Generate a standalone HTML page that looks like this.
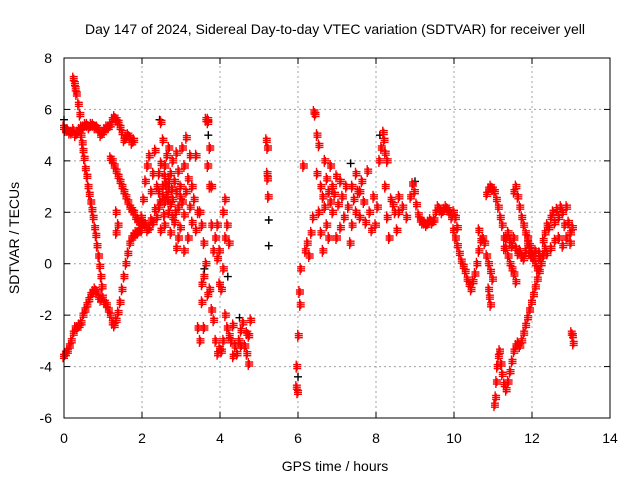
<!DOCTYPE html>
<html><head><meta charset="utf-8"><style>
body{margin:0;background:#fff}
svg{display:block;font-family:"Liberation Sans",sans-serif}
</style></head><body>
<svg id="chart" width="640" height="480" viewBox="0 0 640 480">
<rect width="640" height="480" fill="#fff"/>
<text x="335" y="34" font-size="14" text-anchor="middle">Day 147 of 2024, Sidereal Day-to-day VTEC variation (SDTVAR) for receiver yell</text>
<g id="grid"></g>
<g id="blk"></g>
<g id="red"></g>
<rect x="64" y="58" width="546" height="360" fill="none" stroke="#000" stroke-width="1"/>
<g id="ticks"></g>
<text x="335" y="471" font-size="14" text-anchor="middle">GPS time / hours</text>
<text transform="translate(19,238) rotate(-90)" font-size="14" text-anchor="middle">SDTVAR / TECUs</text>
</svg>
<script>
const xTicks=[0,2,4,6,8,10,12,14];
const yTicks=[-6,-4,-2,0,2,4,6,8];
const trackA=[[0,5.3],[0.05,5.2],[0.1,5.2],[0.15,5.1],[0.2,5.1],[0.25,5.2],[0.3,5.0],[0.35,5.1],[0.4,5.2],[0.45,5.3],[0.5,5.3],[0.55,5.4],[0.6,5.4],[0.65,5.3],[0.7,5.4],[0.75,5.4],[0.8,5.3],[0.85,5.3],[0.9,5.2],[0.95,5.0],[1.0,5.1],[1.05,5.2],[1.1,5.3],[1.15,5.3],[1.2,5.4],[1.25,5.6],[1.3,5.7],[1.35,5.6],[1.4,5.5],[1.45,5.3],[1.5,5.1],[1.55,4.8],[1.6,4.9],[1.65,5.0],[1.7,4.9],[1.75,4.7],[1.8,4.8]];
const trackB=[[0,-3.6],[0.05,-3.5],[0.1,-3.4],[0.15,-3.2],[0.2,-3.0],[0.25,-2.7],[0.3,-2.5],[0.35,-2.5],[0.4,-2.4],[0.45,-2.3],[0.5,-2.0],[0.55,-1.8],[0.6,-1.6],[0.65,-1.4],[0.7,-1.2],[0.75,-1.1],[0.8,-1.0],[0.85,-1.1],[0.9,-1.3],[0.95,-1.4],[1.0,-1.3],[1.05,-1.5],[1.1,-1.6],[1.15,-1.8],[1.2,-2.0],[1.25,-2.3],[1.3,-2.4],[1.35,-2.2],[1.4,-1.9],[1.45,-1.5],[1.5,-1.0],[1.55,-0.5],[1.6,0.0],[1.65,0.4],[1.7,0.8],[1.75,1.0],[1.8,1.1],[1.85,1.2],[1.9,1.2],[1.95,1.3],[2.0,1.3]];
const trackC=[[0.25,7.2],[0.28,7.0],[0.3,6.8],[0.33,6.6],[0.38,6.2],[0.42,5.8],[0.45,5.0],[0.48,4.7],[0.5,4.4],[0.53,4.1],[0.56,3.7],[0.6,3.4],[0.63,3.0],[0.66,2.7],[0.7,2.4],[0.73,2.1],[0.76,1.8],[0.8,1.4],[0.83,1.1],[0.86,0.7],[0.9,0.3],[0.93,-0.1],[0.96,-0.5],[0.99,-0.9]];
const trackD=[[1.2,4.1],[1.25,4.0],[1.3,3.8],[1.35,3.6],[1.4,3.4],[1.45,3.2],[1.5,3.0],[1.55,2.8],[1.6,2.6],[1.65,2.4],[1.7,2.2],[1.75,2.1],[1.8,2.0],[1.85,1.8],[1.9,1.7],[1.95,1.6],[2.0,1.5],[1.35,2.0],[1.35,1.2],[1.4,1.5]];
const cluster1=[[2.0,1.8],[2.05,2.5],[2.1,3.2],[2.1,1.5],[2.15,3.8],[2.2,4.2],[2.2,1.4],[2.25,2.8],[2.3,3.5],[2.3,1.6],[2.35,4.4],[2.4,3.0],[2.4,1.8],[2.45,2.2],[2.5,3.9],[2.5,5.5],[2.55,2.6],[2.6,3.4],[2.6,1.5],[2.65,4.2],[2.7,2.9],[2.7,2.0],[2.75,3.5],[2.75,1.2],[2.8,2.5],[2.8,4.0],[2.85,3.2],[2.85,1.6],[2.9,2.8],[2.9,0.6],[2.95,3.6],[2.95,2.2],[3.0,1.4],[3.0,3.0],[3.05,4.5],[3.05,2.4],[3.1,3.8],[3.1,1.9],[3.15,2.8],[3.2,3.3],[3.2,1.0],[3.25,2.2],[3.3,3.0],[3.3,1.6],[3.35,2.5],[3.4,4.2],[3.4,1.3],[3.45,2.0],[2.6,2.4],[2.55,3.0],[2.65,2.7],[2.7,3.2],[2.75,2.3],[2.45,2.8],[2.35,2.1],[2.25,1.7],[2.15,1.3],[2.05,1.6],[2.9,4.3],[3.0,2.6],[2.8,1.8],[2.5,1.3],[2.6,3.8],[2.7,4.5],[2.55,4.8],[2.45,3.5],[3.15,4.9],[3.1,0.5],[3.25,4.2],[2.95,1.0],[2.62,3.1],[2.68,2.5],[2.78,2.9],[2.88,2.0],[2.58,1.9],[2.48,2.4]];
const cluster2=[[3.5,2.0],[3.55,1.5],[3.6,0.8],[3.6,-0.5],[3.65,0.0],[3.65,5.6],[3.7,5.6],[3.7,5.5],[3.75,4.5],[3.75,-1.0],[3.8,1.5],[3.8,3.0],[3.8,-1.8],[3.85,0.5],[3.85,-2.2],[3.9,1.0],[3.9,-3.0],[3.95,-3.5],[3.95,0.2],[4.0,-3.3],[4.0,-0.8],[3.55,-1.5],[3.6,-2.5],[3.5,-3.0],[3.45,-2.5],[3.55,-0.8],[3.7,-1.2],[3.7,3.8],[3.75,3.0],[4.05,-1.0],[4.1,-0.2],[4.15,2.5],[4.15,-2.0],[4.2,1.5],[4.2,-2.5],[4.25,0.8],[4.25,-2.8],[4.3,-3.0],[4.35,-2.4],[4.4,-3.2],[4.45,-3.5],[4.5,-3.0],[4.55,-2.6],[4.6,-2.3],[4.65,-3.2],[4.7,-3.5],[4.7,-2.7],[4.75,-3.9],[4.75,-2.8],[4.8,-2.2],[4.35,-3.6],[4.55,-3.2],[4.05,-3.4],[4.1,-3.0],[4.0,0.5],[3.95,1.5],[4.15,1.0],[4.1,2.0],[5.2,4.8],[5.23,4.5],[5.22,3.5],[5.23,3.3],[5.25,2.6]];
const cluster3=[[5.97,-4.8],[6.0,-5.0],[5.98,-4.0],[6.02,-2.8],[6.05,-1.1],[6.07,-1.6],[6.08,-0.2],[6.15,3.8],[6.2,0.5],[6.25,0.8],[6.3,0.3],[6.35,1.2],[6.4,1.8],[6.42,5.9],[6.45,5.8],[6.5,5.0],[6.55,4.6],[6.5,3.5],[6.55,2.0],[6.6,3.0],[6.6,1.2],[6.65,2.6],[6.7,2.2],[6.7,4.0],[6.75,3.3],[6.75,1.5],[6.8,2.8],[6.85,2.4],[6.85,3.8],[6.9,2.0],[6.9,3.0],[6.95,2.7],[7.0,3.4],[7.0,1.0],[7.05,2.3],[7.1,3.2],[7.1,1.4],[7.15,2.6],[7.2,1.8],[7.25,3.0],[7.3,2.2],[7.35,0.8],[7.4,1.5],[7.45,2.5],[7.5,3.5],[7.55,2.8],[7.6,1.8],[7.65,3.2],[7.7,2.4],[7.75,1.6],[7.8,3.6],[7.85,2.0],[7.9,1.3],[7.95,2.6],[8.0,1.5],[8.05,2.2],[8.1,4.0],[8.15,4.5],[8.2,5.1],[8.22,4.8],[8.25,3.0],[8.3,1.8],[8.35,1.0],[8.4,2.5],[8.45,2.3],[8.5,2.0],[8.55,1.3],[8.6,2.0],[8.3,4.0],[8.25,4.3],[6.65,0.5],[6.8,1.0],[7.6,2.8],[7.4,3.0],[7.5,2.0]];
const trackE=[[8.6,2.6],[8.7,2.2],[8.8,1.8],[8.9,2.6],[8.95,3.1],[9.0,2.8],[9.05,2.3],[9.1,1.9],[9.15,1.7],[9.2,1.6],[9.25,1.6],[9.3,1.5],[9.35,1.6],[9.4,1.7],[9.45,1.6],[9.5,1.7],[9.55,2.0],[9.6,2.2],[9.65,2.1],[9.7,2.0],[9.75,2.1],[9.8,2.2],[9.85,2.1],[9.9,2.0],[9.95,1.8],[10.0,1.3],[10.05,1.0],[10.1,0.7],[10.15,0.4],[10.2,0.1],[10.25,-0.1],[10.3,-0.3],[10.35,-0.6],[10.4,-0.8],[10.45,-1.0],[10.5,-0.7],[10.55,-0.4],[10.6,0.0],[10.65,0.5],[10.7,0.9],[10.75,1.0],[10.8,0.8],[10.85,0.3],[10.9,0.0],[10.95,-0.3],[11.0,-0.6],[10.0,2.0],[10.05,1.8],[10.1,1.4],[10.65,1.3],[10.9,-1.0],[10.92,-1.3],[10.95,-1.6]];
const trackF=[[10.85,2.7],[10.9,2.9],[10.95,3.0],[11.0,2.9],[11.05,2.8],[11.1,2.5],[11.15,2.2],[11.2,1.8],[11.25,1.5],[11.3,1.0],[11.35,0.6],[11.4,0.3],[11.45,0.0],[11.5,-0.2],[11.55,-0.4],[11.6,-0.7],[11.55,2.8],[11.6,3.0],[11.65,2.6],[11.7,2.2],[11.75,1.8],[11.8,1.5],[11.85,1.2],[11.9,1.0],[11.95,0.7],[12.0,0.5],[12.05,0.2],[12.1,0.0],[12.15,-0.2],[12.2,0.2]];
const trackG=[[11.3,0.6],[11.35,1.0],[11.4,1.2],[11.45,0.9],[11.5,0.7],[11.55,1.0],[11.6,0.6],[11.65,0.4],[11.7,0.5],[11.75,0.3],[11.8,0.2],[11.85,0.5],[11.9,0.8],[11.95,0.4],[12.0,0.3],[12.1,0.5],[12.2,0.4],[12.3,0.9],[12.35,1.2],[12.4,1.5],[12.45,1.4],[12.5,1.8],[12.55,2.0],[12.6,1.6],[12.65,2.1],[12.7,1.8],[12.75,2.2],[12.8,2.0],[12.85,1.5],[12.9,2.2],[12.95,1.6],[13.0,1.2],[13.05,1.4],[12.4,0.4],[12.5,0.6],[12.6,0.9],[12.7,1.0],[12.8,0.7],[12.9,1.0],[13.0,0.8]];
const trackH=[[11.05,-5.5],[11.08,-5.2],[11.1,-4.6],[11.12,-4.0],[11.15,-3.6],[11.18,-3.4],[11.22,-3.9],[11.25,-4.3],[11.3,-4.7],[11.35,-4.9],[11.4,-4.6],[11.45,-4.2],[11.5,-3.8],[11.55,-3.4],[11.6,-3.2],[11.65,-3.1],[11.7,-3.2],[11.75,-3.0],[11.8,-2.7],[11.85,-2.4],[11.9,-2.1],[11.95,-1.8],[12.0,-1.5],[12.05,-1.2],[12.1,-0.9],[12.15,-0.6],[12.2,-0.3],[12.25,0.0],[12.3,0.3],[12.35,0.6],[13.02,-2.7],[13.05,-2.8],[13.07,-3.1]];
const blackPts=[[0.0,5.6],[2.45,5.6],[3.7,5.0],[3.6,-0.2],[4.2,-0.5],[5.25,1.7],[5.25,0.7],[6.0,-4.4],[7.35,3.9],[9.0,3.2],[8.1,5.0],[4.5,-2.1]];

const X0=64,X1=610,Y0=418,Y1=58;
const xs=t=>X0+(t-0)/(14-0)*(X1-X0);
const ys=v=>Y0-(v+6)/(8+6)*(Y0-Y1);
const NS='http://www.w3.org/2000/svg';
function mk(tag,attrs,parent){const e=document.createElementNS(NS,tag);for(const k in attrs)e.setAttribute(k,attrs[k]);parent.appendChild(e);return e;}
const grid=document.getElementById('grid'),ticks=document.getElementById('ticks');
xTicks.forEach(t=>{
  const x=xs(t);
  if(t>0&&t<14){const g=mk('line',{x1:x,x2:x,y1:Y0,y2:Y1,stroke:'#a0a0a0','stroke-dasharray':'2,3'},grid);
  
  }
  mk('line',{x1:x,x2:x,y1:Y0,y2:Y0-6,stroke:'#000'},ticks);
  mk('line',{x1:x,x2:x,y1:Y1,y2:Y1+6,stroke:'#000'},ticks);
  const l=mk('text',{x:x,y:443,'font-size':14,'text-anchor':'middle'},ticks);
  l.textContent=t;
  
  
});
yTicks.forEach(v=>{
  const y=ys(v);
  if(v>-6&&v<8){const g=mk('line',{x1:X0,x2:X1,y1:y,y2:y,stroke:'#a0a0a0','stroke-dasharray':'2,3'},grid);
  
  }
  mk('line',{x1:X0,x2:X0+6,y1:y,y2:y,stroke:'#000'},ticks);
  mk('line',{x1:X1,x2:X1-6,y1:y,y2:y,stroke:'#000'},ticks);
  const l=mk('text',{x:52,y:y+5,'font-size':14,'text-anchor':'end'},ticks);
  l.textContent=v;
  
  
});
function plus(p,parent,color,name,thick){
  const x=xs(p[0]),y=ys(p[1]);
  let d=`M${x-4},${y}H${x+4}M${x},${y-4}V${y+4}`;
  if(thick){d+=`M${x-4},${y-2}H${x+4}M${x-4},${y+2}H${x+4}M${x-1},${y-6}V${y+6}`;}
  const e=mk('path',{d:d,stroke:color,'stroke-width':1.4,fill:'none'},parent);
  
  
}
const blk=document.getElementById('blk'),red=document.getElementById('red');
blackPts.forEach(p=>plus(p,blk,'#000','black-point',false));
[trackA,trackB,trackC,trackD,cluster1,cluster2,cluster3,trackE,trackF,trackG,trackH].forEach(tr=>tr.forEach(p=>plus(p,red,'#ff0000','red-point',true)));
</script>
</body></html>
